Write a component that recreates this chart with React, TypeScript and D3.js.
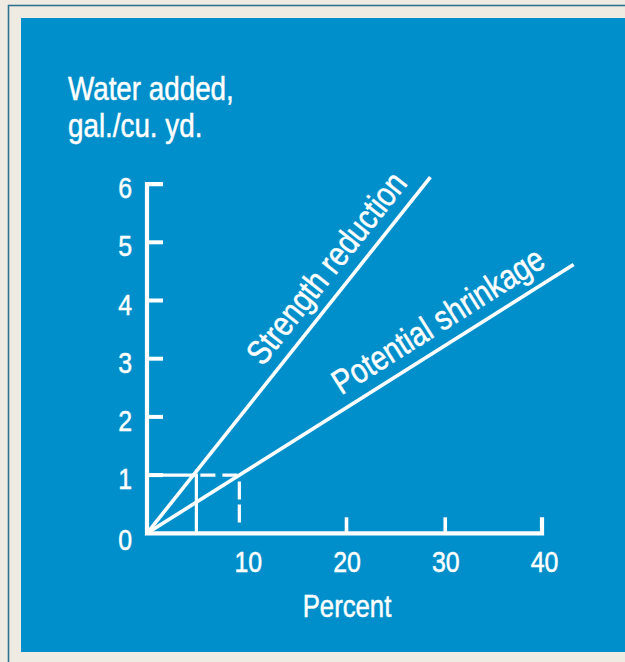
import React from 'react';
import * as d3 from 'd3';

// values
const yTickLabels = [0, 1, 2, 3, 4, 5, 6];
const yTickMarks = [1, 2, 3, 4, 5, 6];
const xTickLabels = [10, 20, 30, 40];
const xTickMarks = [20, 30, 40];

const strengthReduction = [
    {percent: 0, water: 0},
    {percent: 28.7, water: 6.12},
];
const potentialShrinkage = [
    {percent: 0, water: 0},
    {percent: 43.2, water: 4.62},
];

// water level of the worked example and where it meets each line
const guideWater = 1;
const strengthAtGuide = 5.0;
const shrinkageAtGuide = 9.35;

const titleLines = ['Water added,', 'gal./cu. yd.'];
const xTitle = 'Percent';

const BLUE = '#008fca';
const BEIGE = '#f0ebe2';
const FONT = '"Liberation Sans", Arial, sans-serif';
const NARROW = 0.83; // the original face is a condensed grotesk

type Pt = {percent: number, water: number};

// condensed text: squeeze a regular face horizontally
const T: React.FC<{x: number, y: number, size: number, anchor?: string, rotate?: number, children: React.ReactNode}> =
    ({x, y, size, anchor = 'start', rotate = 0, children}) => (
        <text transform={`translate(${x},${y}) rotate(${rotate}) scale(${NARROW},1)`}
              fontSize={size} textAnchor={anchor} fill="#fff" stroke="#fff" strokeWidth={0.5}>{children}</text>
    );

const App: React.FC = () => {
    const width = 625;
    const height = 662;

    const x = d3.scaleLinear().domain([0, 40]).range([147, 542]);
    const y = d3.scaleLinear().domain([0, 6]).range([533.3, 184.1]);

    const line = d3.line<Pt>()
        .x(d => x(d.percent))
        .y(d => y(d.water));

    // position and angle of a label sitting a few px above a line
    const labelPos = (series: Pt[], atWater: number) => {
        const a = series[0], b = series[series.length - 1];
        const dx = x(b.percent) - x(a.percent);
        const dy = y(b.water) - y(a.water);
        const len = Math.sqrt(dx * dx + dy * dy);
        const ux = dx / len, uy = dy / len;
        const t = (atWater - a.water) / (b.water - a.water);
        return {
            px: x(a.percent + t * (b.percent - a.percent)) + uy * 13,
            py: y(atWater) - ux * 13,
            angle: Math.atan2(dy, dx) * 180 / Math.PI,
        };
    };
    const sLab = labelPos(strengthReduction, 2.72);
    const pLab = labelPos(potentialShrinkage, 2.18);

    const x0 = x(0), y0 = y(0);

    return (
        <svg width={width} height={height} style={{position: 'absolute', left: 0, top: 0}} fontFamily={FONT}>
            <rect x={0} y={0} width={width} height={height} fill={BEIGE}/>
            <rect x={8.5} y={5.5} width={width + 10} height={height + 10} fill={BEIGE} stroke="#2f7391" strokeWidth={1.6}/>
            <rect x={21} y={18} width={width} height={652 - 18} fill={BLUE}/>

            {titleLines.map((t, i) => (
                <T key={t} x={68} y={100 + i * 37} size={33.5}>{t}</T>
            ))}

            {/* axes */}
            <path d={`M${x0 + 16},${y(6)}H${x0}V${y0}H${x(40)}V${y0 - 16}`}
                  fill="none" stroke="#fff" strokeWidth={4.2} strokeLinecap="butt" strokeLinejoin="miter"/>
            {yTickMarks.filter(v => v !== 6).map(v => (
                <line key={v} x1={x0} x2={x0 + 16} y1={y(v)} y2={y(v)} stroke="#fff" strokeWidth={4}/>
            ))}
            {xTickMarks.filter(v => v !== 40).map(v => (
                <line key={v} x1={x(v) + 2} x2={x(v) + 2} y1={y0} y2={y0 - 16} stroke="#fff" strokeWidth={3.6}/>
            ))}

            {yTickLabels.map(v => (
                <T key={v} x={132} y={y(v) + 14 + (v === 0 ? 3 : 0)} size={30} anchor="end">{v}</T>
            ))}
            {xTickLabels.map(v => (
                <T key={v} x={x(v) + 2.5} y={571.5} size={30} anchor="middle">{v}</T>
            ))}
            <T x={347} y={616.5} size={31} anchor="middle">{xTitle}</T>

            {/* worked example at 1 gal./cu. yd. */}
            <path d={`M${x0},${y(guideWater)}H${x(strengthAtGuide)}V${y0}`}
                  fill="none" stroke="#fff" strokeWidth={3.2}/>
            <line x1={x(strengthAtGuide)} x2={x(shrinkageAtGuide)} y1={y(guideWater)} y2={y(guideWater)}
                  stroke="#fff" strokeWidth={3.2} strokeDasharray="15 7" strokeDashoffset={18}/>
            <line x1={x(shrinkageAtGuide)} x2={x(shrinkageAtGuide)} y1={y(guideWater)} y2={y0}
                  stroke="#fff" strokeWidth={3.2} strokeDasharray="0 6.5 18 5 18 30"/>

            {/* the two relations */}
            <path d={line(strengthReduction) ?? ''} fill="none" stroke="#fff" strokeWidth={3.6}/>
            <path d={line(potentialShrinkage) ?? ''} fill="none" stroke="#fff" strokeWidth={3.6}/>

            <T x={sLab.px} y={sLab.py} rotate={sLab.angle} size={34.5}>Strength reduction</T>
            <T x={pLab.px} y={pLab.py} rotate={pLab.angle} size={34.5}>Potential shrinkage</T>
        </svg>
    );
};

export default App;
